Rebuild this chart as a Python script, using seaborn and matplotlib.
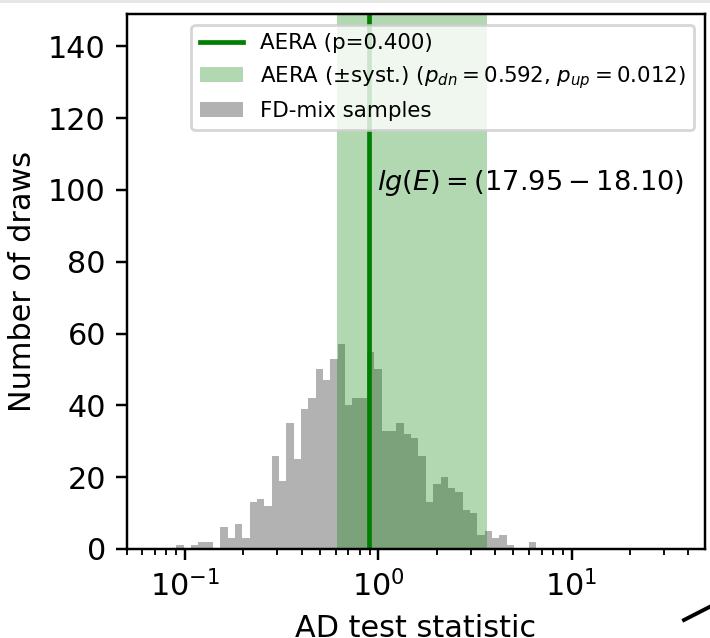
import numpy as np
import pandas as pd
import matplotlib
matplotlib.use("Agg")
import matplotlib.pyplot as plt
import seaborn as sns
from matplotlib.lines import Line2D
from matplotlib.patches import Patch, Rectangle

# ---- data ----
log_edge_start = -1.0466      # log10 of first bin edge
log_bin_width = 0.038         # bin width in log10 units
n_bins = 49
counts = [1, 0, 1, 2, 2, 0, 6, 3, 7, 3, 13, 14, 12, 26, 19, 35, 25, 39, 42, 50,
          47, 53, 57, 40, 42, 42, 55, 50, 33, 33, 35, 32, 31, 26, 13, 18, 20, 17,
          16, 11, 10, 4, 5, 3, 4, 1, 0, 0, 2]
aera_value = 0.898
syst_low = 0.610
syst_high = 3.65
label_line = "AERA (p=0.400)"
label_span = r"AERA ($\pm$syst.) ($p_{dn} = 0.592$, $p_{up} = 0.012$)"
label_hist = "FD-mix samples"
annotation = r"$lg(E) = (17.95 - 18.10)$"
yticks = [0, 20, 40, 60, 80, 100, 120, 140]

log_lo = log_edge_start
log_hi = log_edge_start + n_bins * log_bin_width
centers = 10 ** (log_edge_start + (np.arange(n_bins) + 0.5) * log_bin_width)
df = pd.DataFrame({"stat": centers, "count": counts})

plt.rcParams.update({
    "font.size": 10.9,
    "xtick.major.size": 3.8, "ytick.major.size": 3.8,
    "xtick.minor.size": 2.2,
    "xtick.major.width": 0.88, "ytick.major.width": 0.88,
    "xtick.minor.width": 0.66,
    "axes.linewidth": 0.88,
    "xtick.major.pad": 3.8, "ytick.major.pad": 3.8,
})

fig = plt.figure(figsize=(3.55, 3.19), dpi=200)
ax = fig.add_axes([127 / 710, 1 - 549 / 638, (705 - 127) / 710, (549 - 14) / 638])

sns.histplot(data=df, x="stat", weights="count", bins=n_bins,
             binrange=(log_lo, log_hi), log_scale=True, color="gray",
             alpha=0.6, linewidth=0, ax=ax)
ax.axvspan(syst_low, syst_high, color="green", alpha=0.3, linewidth=0)
ax.axvline(aera_value, color="green", lw=1.7)

ax.set_xlim(0.05, 49)
ax.set_ylim(0, 149)
ax.set_yticks(yticks)
ax.set_xlabel("AD test statistic", fontsize=10.9)
ax.set_ylabel("Number of draws", fontsize=10.9)
ax.tick_params(labelsize=10.9)

ax.text(0.98, 102, annotation, fontsize=9.8, va="center", ha="left")

handles = [Line2D([0], [0], color="green", lw=1.7),
           Patch(facecolor="green", alpha=0.3),
           Patch(facecolor="gray", alpha=0.6)]
ax.legend(handles, [label_line, label_span, label_hist], loc="upper right",
          fontsize=7.7)

# bits of the surrounding figure visible in the crop
fig.patches.append(Rectangle((0, 1 - 3 / 638), 1, 3 / 638, transform=fig.transFigure,
                             facecolor="#e6e6e6", edgecolor="none"))
fig.add_artist(Line2D([684 / 710, 1.0], [1 - 620 / 638, 1 - 606.7 / 638],
                      transform=fig.transFigure, color="black", lw=1.4))

fig.savefig("out.png", dpi=200)
